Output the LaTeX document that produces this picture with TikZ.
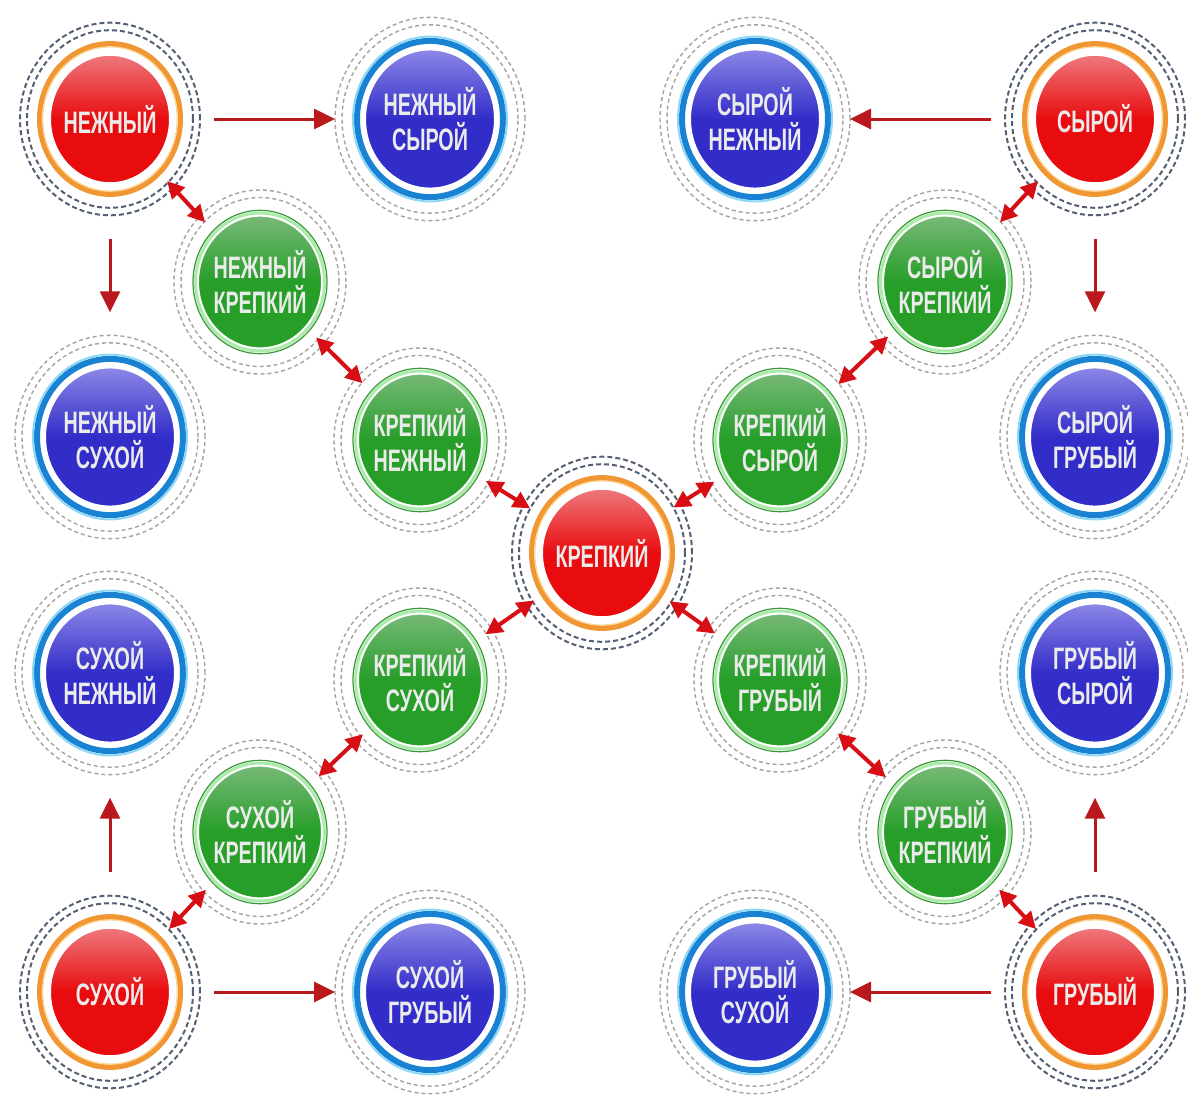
\documentclass[tikz,border=0pt]{standalone}
\usepackage{fontspec}
\newfontfamily\ballfont[FakeStretch=0.68]{Liberation Sans}
\usetikzlibrary{arrows.meta}

\definecolor{ballR}{RGB}{232,12,14}
\definecolor{ballRt}{RGB}{238,120,125}
\definecolor{ballB}{RGB}{50,45,200}
\definecolor{ballBt}{RGB}{140,135,230}
\definecolor{ballG}{RGB}{38,158,40}
\definecolor{ballGt}{RGB}{120,185,120}
\definecolor{ringO}{RGB}{240,150,50}
\definecolor{ringY}{RGB}{255,215,150}
\definecolor{ringB}{RGB}{25,130,210}
\definecolor{ringC}{RGB}{140,215,245}
\definecolor{ringG}{RGB}{170,235,170}
\definecolor{ringGd}{RGB}{60,150,60}
\definecolor{dashD}{RGB}{85,95,115}
\definecolor{dashL}{RGB}{165,162,160}
\definecolor{arrowR}{RGB}{185,25,28}
\definecolor{arrowD}{RGB}{215,15,20}

\begin{document}
\begin{tikzpicture}[x=1pt,y=-1pt]
 \tikzstyle{arrow} = [-{Triangle[length=21pt,width=20pt]},line width=3pt,draw=arrowR,fill=arrowR,shorten <=13pt];
 \tikzstyle{arrowV} = [arrow,shorten <=23pt,shorten >=23pt];
 \tikzstyle{darrow} = [{Triangle[length=17pt,width=17pt]}-{Triangle[length=17pt,width=17pt]},line width=4pt,draw=arrowD,fill=arrowD,shorten <=-10pt,shorten >=-8pt];
 \tikzstyle{circles} = [circle,yscale=1.07,inner sep=0pt,align=center,text=white!92!black,line width=2pt,draw=white,font=\ballfont\bfseries\fontsize{29}{33}\selectfont];
 \tikzstyle{placeR} = [minimum size=120pt,outer sep=31pt,top color=ballRt,bottom color=ballR,middle color=ballR];
 \tikzstyle{placeB} = [minimum size=130pt,outer sep=30pt,top color=ballBt,bottom color=ballB,middle color=ballB];
 \tikzstyle{placeG} = [minimum size=124pt,outer sep=24pt,top color=ballGt,bottom color=ballG,middle color=ballG];
 \tikzstyle{dashR} = [draw=dashD,line width=2pt,dash pattern=on 5pt off 3pt];
 \tikzstyle{dashW} = [draw=dashL,line width=1.4pt,dash pattern=on 4pt off 3pt];

 \useasboundingbox (0,0) rectangle (1188,1100);

 %% red
 \node[circles,placeR,name=nezh] at (110,119) {НЕЖНЫЙ};
 \node[circles,placeR,name=syr]  at (1095,119) {СЫРОЙ};
 \node[circles,placeR,name=krep] at (602,553) {КРЕПКИЙ};
 \node[circles,placeR,name=sukh] at (110,992) {СУХОЙ};
 \node[circles,placeR,name=grub] at (1095,992) {ГРУБЫЙ};

 %% blue
 \node[circles,placeB,name=nezhsyr]  at (430,119) {НЕЖНЫЙ\\СЫРОЙ};
 \node[circles,placeB,name=syrnezh]  at (755,119) {СЫРОЙ\\НЕЖНЫЙ};
 \node[circles,placeB,name=nezhsukh] at (110,437) {НЕЖНЫЙ\\СУХОЙ};
 \node[circles,placeB,name=syrgrub]  at (1095,437) {СЫРОЙ\\ГРУБЫЙ};
 \node[circles,placeB,name=sukhnezh] at (110,673) {СУХОЙ\\НЕЖНЫЙ};
 \node[circles,placeB,name=grubsyr]  at (1095,673) {ГРУБЫЙ\\СЫРОЙ};
 \node[circles,placeB,name=sukhgrub] at (430,992) {СУХОЙ\\ГРУБЫЙ};
 \node[circles,placeB,name=grubsukh] at (755,992) {ГРУБЫЙ\\СУХОЙ};

 %% green
 \node[circles,placeG,name=nezhkrep] at (260,282) {НЕЖНЫЙ\\КРЕПКИЙ};
 \node[circles,placeG,name=krepnezh] at (420,440) {КРЕПКИЙ\\НЕЖНЫЙ};
 \node[circles,placeG,name=syrkrep]  at (945,282) {СЫРОЙ\\КРЕПКИЙ};
 \node[circles,placeG,name=krepsyr]  at (780,440) {КРЕПКИЙ\\СЫРОЙ};
 \node[circles,placeG,name=krepsukh] at (420,680) {КРЕПКИЙ\\СУХОЙ};
 \node[circles,placeG,name=sukhkrep] at (260,832) {СУХОЙ\\КРЕПКИЙ};
 \node[circles,placeG,name=krepgrub] at (780,680) {КРЕПКИЙ\\ГРУБЫЙ};
 \node[circles,placeG,name=grubkrep] at (945,832) {ГРУБЫЙ\\КРЕПКИЙ};

 %% rings
 \foreach \n in {nezh,syr,krep,sukh,grub} {
   \draw[draw=ringO,line width=6pt] (\n.center) circle[x radius=70pt,y radius=74.9pt];
   \draw[draw=ringY,line width=1.2pt] (\n.center) circle[x radius=67.5pt,y radius=72.2pt];
   \draw[dashR] (\n.center) circle[x radius=83pt,y radius=88.8pt];
   \draw[dashR] (\n.center) circle[x radius=90pt,y radius=96.3pt];
 }
 \foreach \n in {nezhsyr,syrnezh,nezhsukh,syrgrub,sukhnezh,grubsyr,sukhgrub,grubsukh} {
   \draw[draw=ringB,line width=6pt] (\n.center) circle[x radius=73pt,y radius=78.1pt];
   \draw[draw=ringC,line width=2pt] (\n.center) circle[x radius=77pt,y radius=82.4pt];
   \draw[dashW] (\n.center) circle[x radius=88pt,y radius=94.2pt];
   \draw[dashW] (\n.center) circle[x radius=95pt,y radius=101.7pt];
 }
 \foreach \n in {nezhkrep,krepnezh,syrkrep,krepsyr,krepsukh,sukhkrep,krepgrub,grubkrep} {
   \draw[draw=ringG,line width=3pt] (\n.center) circle[x radius=64.5pt,y radius=69pt];
   \draw[draw=ringGd,line width=1.2pt] (\n.center) circle[x radius=67pt,y radius=71.7pt];
   \draw[dashW] (\n.center) circle[x radius=79pt,y radius=84.5pt];
   \draw[dashW] (\n.center) circle[x radius=86pt,y radius=92pt];
 }

 %% one-way arrows
 \draw[arrow]  (nezh) -- (nezhsyr);
 \draw[arrowV] (nezh) -- (nezhsukh);
 \draw[arrow]  (syr) -- (syrnezh);
 \draw[arrowV] (syr) -- (syrgrub);
 \draw[arrowV] (sukh) -- (sukhnezh);
 \draw[arrow]  (sukh) -- (sukhgrub);
 \draw[arrow]  (grub) -- (grubsukh);
 \draw[arrowV] (grub) -- (grubsyr);

 %% two-way arrows
 \draw[darrow] (nezh) -- (nezhkrep);
 \draw[darrow] (nezhkrep) -- (krepnezh);
 \draw[darrow] (krepnezh) -- (krep);
 \draw[darrow] (syr) -- (syrkrep);
 \draw[darrow] (syrkrep) -- (krepsyr);
 \draw[darrow] (krepsyr) -- (krep);
 \draw[darrow] (krep) -- (krepsukh);
 \draw[darrow] (krepsukh) -- (sukhkrep);
 \draw[darrow] (sukhkrep) -- (sukh);
 \draw[darrow] (krep) -- (krepgrub);
 \draw[darrow] (krepgrub) -- (grubkrep);
 \draw[darrow] (grubkrep) -- (grub);

\end{tikzpicture}
\end{document}
